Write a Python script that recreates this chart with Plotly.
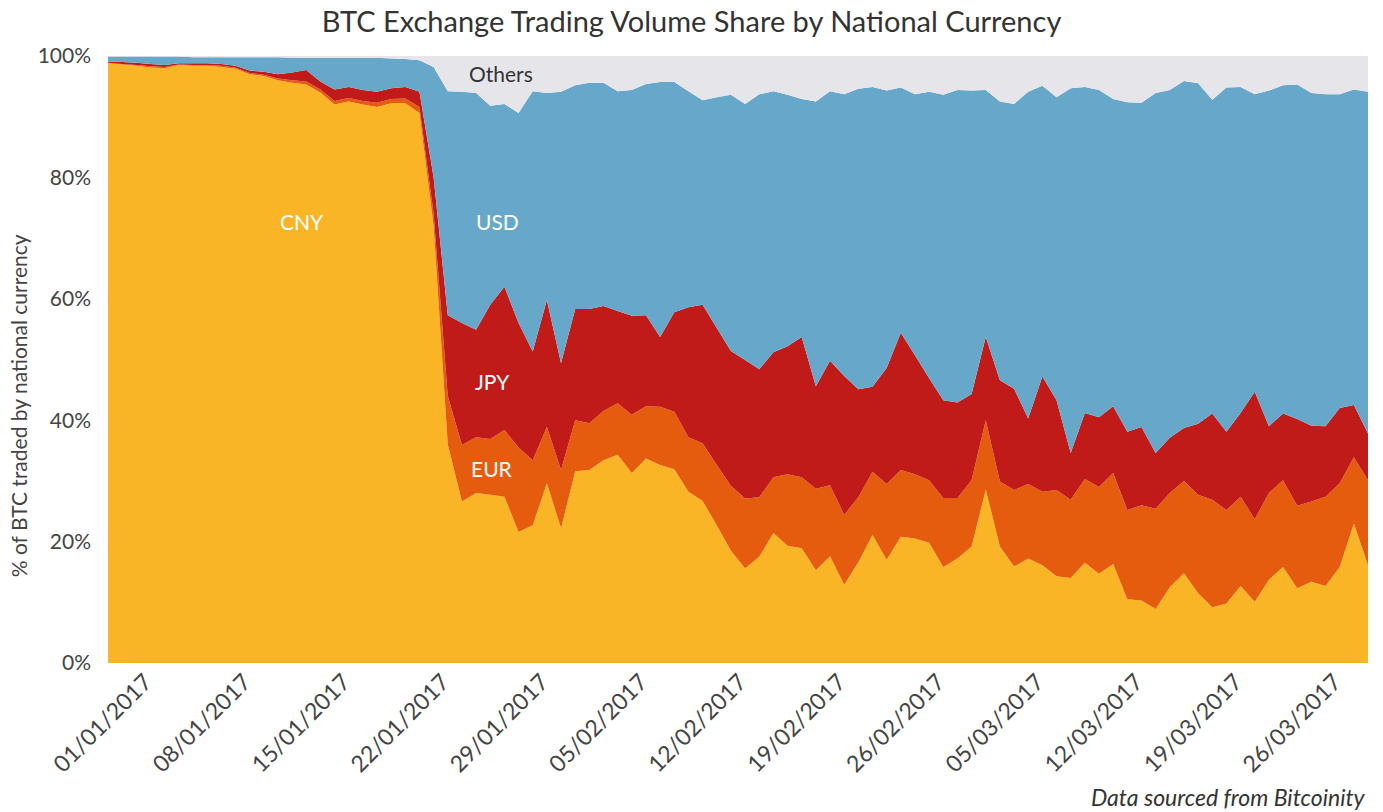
"""BTC exchange trading volume share by national currency (stacked area)."""
import pandas as pd
import plotly.graph_objects as go

# daily observations, 30 Dec 2016 - 29 Mar 2017
dates = pd.date_range("2016-12-30", periods=90, freq="D")

# share of BTC traded in each currency, %
cny = [98.8, 98.6, 98.4, 98.1, 98.0, 98.5, 98.4, 98.4, 98.2, 97.9,
       97.0, 96.7, 96.0, 95.6, 95.3, 94.0, 92.0, 92.5, 92.0, 91.6,
       92.2, 92.2, 90.6, 72.0, 36.0, 26.6, 28.0, 27.7, 27.4, 21.6,
       22.7, 29.6, 22.2, 31.6, 31.8, 33.4, 34.3, 31.3, 33.7, 32.6,
       31.9, 28.2, 26.7, 22.7, 18.5, 15.6, 17.5, 21.4, 19.3, 18.9,
       15.3, 17.6, 12.9, 16.6, 21.1, 17.0, 20.8, 20.5, 19.8, 15.8,
       17.2, 19.2, 28.6, 19.2, 15.9, 17.2, 16.1, 14.3, 14.0, 16.5,
       14.7, 16.3, 10.5, 10.3, 8.9, 12.5, 14.8, 11.5, 9.2, 9.8,
       12.7, 10.1, 13.7, 15.8, 12.3, 13.4, 12.7, 15.8, 23.0, 16.1]
eur = [0.1, 0.1, 0.1, 0.2, 0.2, 0.1, 0.1, 0.1, 0.2, 0.2,
       0.2, 0.2, 0.3, 0.4, 0.5, 0.5, 0.6, 0.6, 0.6, 0.7,
       0.7, 0.8, 1.0, 2.0, 8.0, 9.3, 9.2, 9.2, 11.0, 13.9,
       10.7, 9.3, 9.6, 8.4, 7.7, 8.1, 8.5, 9.6, 8.6, 9.6,
       9.5, 9.0, 9.5, 9.9, 10.7, 11.5, 9.8, 9.2, 11.8, 11.7,
       13.4, 11.7, 11.5, 10.7, 10.4, 12.5, 11.0, 10.6, 10.3, 11.4,
       10.0, 10.9, 11.4, 10.7, 12.6, 12.3, 12.1, 14.2, 12.9, 13.8,
       14.3, 15.0, 14.7, 15.7, 16.5, 15.5, 15.2, 16.2, 17.7, 15.4,
       14.7, 13.6, 14.3, 14.3, 13.6, 13.2, 14.7, 13.8, 10.9, 14.0]
jpy = [0.2, 0.3, 0.4, 0.4, 0.3, 0.2, 0.3, 0.3, 0.3, 0.3,
       0.4, 0.5, 0.7, 1.3, 1.9, 1.3, 1.9, 1.8, 1.8, 1.8,
       1.8, 1.9, 2.5, 6.0, 13.3, 20.1, 17.7, 22.1, 23.6, 20.5,
       17.9, 20.9, 17.6, 18.3, 18.8, 17.3, 15.2, 16.3, 15.0, 11.5,
       16.4, 21.4, 22.8, 22.6, 22.2, 22.8, 21.1, 20.6, 21.1, 23.1,
       16.9, 20.5, 22.9, 17.8, 14.0, 19.1, 22.6, 19.6, 16.8, 16.1,
       15.7, 14.2, 13.7, 16.7, 16.7, 10.8, 19.0, 14.8, 7.7, 10.9,
       11.5, 11.0, 12.9, 12.9, 9.2, 9.1, 8.7, 11.7, 14.2, 12.9,
       13.8, 21.0, 11.0, 11.0, 14.3, 12.5, 11.6, 12.4, 8.6, 7.7]
usd = [0.8, 0.9, 1.0, 1.2, 1.4, 1.1, 1.0, 1.0, 1.1, 1.4,
       2.2, 2.4, 2.8, 2.4, 2.0, 3.9, 5.2, 4.8, 5.3, 5.6,
       4.9, 4.6, 5.2, 18.2, 36.9, 38.1, 39.0, 32.8, 30.1, 34.6,
       42.9, 34.1, 44.7, 36.9, 37.3, 36.8, 36.2, 37.2, 38.1, 42.0,
       37.9, 35.6, 33.7, 38.0, 42.2, 42.2, 45.3, 43.0, 41.4, 39.2,
       46.9, 44.4, 46.4, 49.5, 49.4, 45.7, 40.4, 43.0, 47.2, 50.3,
       51.5, 50.0, 40.7, 45.9, 46.9, 53.8, 47.9, 49.9, 60.1, 53.7,
       53.9, 50.6, 54.3, 53.4, 59.3, 57.3, 57.2, 56.1, 51.7, 56.7,
       53.7, 49.0, 55.3, 54.1, 55.1, 54.8, 54.7, 51.7, 52.0, 56.3]
others = [0.1, 0.1, 0.1, 0.1, 0.1, 0.1, 0.2, 0.2, 0.2, 0.2,
          0.2, 0.2, 0.2, 0.3, 0.3, 0.3, 0.3, 0.3, 0.3, 0.3,
          0.4, 0.5, 0.7, 1.8, 5.8, 5.9, 6.1, 8.2, 7.9, 9.4,
          5.8, 6.1, 5.9, 4.8, 4.4, 4.4, 5.8, 5.6, 4.6, 4.3,
          4.3, 5.8, 7.3, 6.8, 6.4, 7.9, 6.3, 5.8, 6.4, 7.1,
          7.5, 5.8, 6.3, 5.4, 5.1, 5.7, 5.2, 6.3, 5.9, 6.4,
          5.6, 5.7, 5.6, 7.5, 7.9, 5.9, 4.9, 6.8, 5.3, 5.1,
          5.6, 7.1, 7.6, 7.7, 6.1, 5.6, 4.1, 4.5, 7.2, 5.2,
          5.1, 6.3, 5.7, 4.8, 4.7, 6.1, 6.3, 6.3, 5.5, 5.9]

series = [
    ("CNY", cny, "#F9B526"),
    ("EUR", eur, "#E65C0E"),
    ("JPY", jpy, "#C01B18"),
    ("USD", usd, "#67A8CA"),
    ("Others", others, "#E6E6EA"),
]

FONT = "Lato, 'Open Sans', sans-serif"

fig = go.Figure()
for name, vals, color in series:
    fig.add_trace(go.Scatter(
        x=dates, y=vals, name=name,
        mode="none", stackgroup="share", groupnorm="percent",
        fillcolor=color,
    ))

# series labels sitting inside the areas
labels = [
    ("CNY", "2017-01-12 17:00", 72.8, "white"),
    ("USD", "2017-01-26 12:00", 72.8, "white"),
    ("JPY", "2017-01-26 03:00", 46.3, "white"),
    ("EUR", "2017-01-26 03:00", 32.1, "white"),
    ("Others", "2017-01-26 18:00", 97.2, "#333333"),
]
for text, x, y, color in labels:
    fig.add_annotation(x=x, y=y, text=text, showarrow=False,
                       font=dict(family=FONT, size=21, color=color))

# y axis title (sits a little below the plot centre, as in the source)
fig.add_annotation(
    xref="paper", yref="paper", x=-0.0714, y=0.423, textangle=-90,
    xanchor="center", yanchor="middle",
    text="% of BTC traded by national currency", showarrow=False,
    font=dict(family=FONT, size=21, color="#444444"),
)

fig.add_annotation(
    xref="paper", yref="paper", x=1, y=-0.221, xanchor="right", yanchor="middle",
    text="<i>Data sourced from Bitcoinity</i>", showarrow=False,
    font=dict(family=FONT, size=23, color="#333333"),
)

fig.update_layout(
    width=1383, height=812,
    margin=dict(l=108, r=15, t=56, b=149, autoexpand=False),
    paper_bgcolor="white", plot_bgcolor="white",
    showlegend=False,
    title=dict(text="BTC Exchange Trading Volume Share by National Currency",
               x=0.5, xanchor="center", y=0.973, yanchor="middle",
               font=dict(family=FONT, size=29, color="#333333")),
    font=dict(family=FONT, color="#444444"),
)
fig.update_xaxes(
    range=[dates[0], dates[-1]],
    tick0="2017-01-01", dtick=7 * 24 * 3600 * 1000,
    tickformat="%d/%m/%Y", tickangle=-45,
    tickfont=dict(size=23, color="#444444"), ticklabelshift=9,
    showgrid=False, zeroline=False, showline=False,
)
fig.update_yaxes(
    range=[0, 100], dtick=20, ticksuffix="%",
    tickfont=dict(size=21, color="#444444"), ticklabelstandoff=16,
    showgrid=False, zeroline=False, showline=False,
)

fig.write_html("out.html", config={"displayModeBar": False},
               post_script="document.body.style.margin='0';")
